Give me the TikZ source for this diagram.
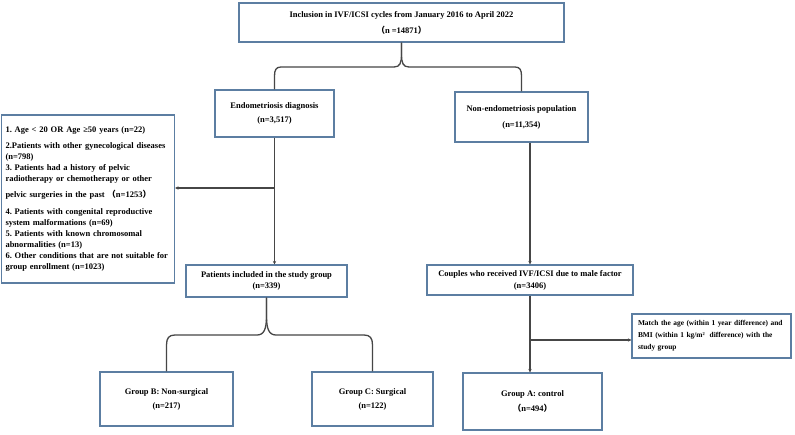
\documentclass[tikz,border=0pt]{standalone}
\usepackage{fontspec}
\setmainfont{Liberation Serif}
\newfontfamily\cjk{Noto Sans CJK SC}
\usetikzlibrary{arrows.meta}
\definecolor{boxc}{RGB}{92,126,162}
\definecolor{linec}{RGB}{70,70,70}
\tikzset{
  box/.style={draw=boxc, line width=1.1pt, inner sep=0pt, align=center, fill=white},
  conn/.style={draw=linec, line width=1.3pt},
  arr/.style={conn, -{Stealth[length=3.5pt,width=3.5pt]}},
  fb/.style={font=\frenchspacing\fontsize{8.5}{#1}\selectfont\bfseries}
}
\begin{document}
\begin{tikzpicture}[x=1pt,y=-1pt]
\useasboundingbox (0,0) rectangle (795,435);
\fill[white] (0,0) rectangle (795,435);

\node[box, fb=16, minimum width=325pt, minimum height=39pt] (top) at (401.5,22.5)
  {Inclusion in IVF/ICSI cycles from January 2016 to April 2022\\{\cjk （}n =14871{\cjk ）}};
\node[box, fb=14, minimum width=119pt, minimum height=47pt] (endo) at (274.5,113.5)
  {Endometriosis diagnosis\\(n=3,517)};
\node[box, fb=16, minimum width=133pt, minimum height=50pt] (nonendo) at (521.5,117)
  {Non-endometriosis population\\(n=11,354)};
\node[box, fb=11, minimum width=171pt, minimum height=168pt, inner xsep=4pt, text width=165pt, align=left] (excl) at (88,199)
  {1. Age < 20 OR Age ≥50 years (n=22)\\[5pt]
   2.Patients with other gynecological diseases\\
   (n=798)\\
   3. Patients had a history of pelvic\\
   radiotherapy or chemotherapy or other\\[5pt]
   pelvic surgeries in the past {\cjk （}n=1253{\cjk ）}\\[6pt]
   4. Patients with congenital reproductive\\
   system malformations (n=69)\\
   5. Patients with known chromosomal\\
   abnormalities (n=13)\\
   6. Other conditions that are not suitable for\\
   group enrollment (n=1023)};
\node[box, fb=11, minimum width=161pt, minimum height=32pt] (study) at (266.5,281)
  {Patients included in the study group\\(n=339)};
\node[box, fb=12, minimum width=206pt, minimum height=30pt] (couples) at (530,280)
  {Couples who received IVF/ICSI due to male factor\\(n=3406)};
\node[box, font=\frenchspacing\fontsize{7.4}{12}\selectfont\bfseries, minimum width=159pt, minimum height=44pt, inner xsep=6pt, text width=147pt, align=left] (match) at (711.5,336)
  {Match the age (within 1 year difference) and\\BMI (within 1 kg/m²\ \ difference) with the\\study group};
\node[box, fb=14, minimum width=133pt, minimum height=54pt] (grpB) at (166.5,399)
  {Group B: Non-surgical\\(n=217)};
\node[box, fb=14, minimum width=121pt, minimum height=54pt] (grpC) at (372.5,399)
  {Group C: Surgical\\(n=122)};
\node[box, fb=15, minimum width=139pt, minimum height=57pt] (grpA) at (532.5,401.5)
  {Group A: control\\{\cjk （}n=494{\cjk ）}};

% brace 1
\draw[conn] (top.south) -- (401.5,54) .. controls (401.5,63) and (400,67) .. (394,67)
  -- (281,67) .. controls (276,67) and (274.5,70) .. (274.5,76) -- (endo.north);
\draw[conn] (top.south) -- (401.5,54) .. controls (401.5,63) and (403,67) .. (409,67)
  -- (515,67) .. controls (520,67) and (521.5,70) .. (521.5,76) -- (nonendo.north);

% endometriosis branch
\coordinate (j1) at (endo.south |- 0,188);
\draw[arr] (endo.south) -- (endo.south |- study.north);
\draw[arr] (j1) -- (j1 -| excl.east);

% brace 2
\draw[conn] (study.south) -- (266.5,316) .. controls (266.5,329) and (264,335) .. (257,335)
  -- (175,335) .. controls (169,335) and (166.5,338) .. (166.5,345) -- (grpB.north);
\draw[conn] (study.south) -- (266.5,316) .. controls (266.5,329) and (269,335) .. (276,335)
  -- (364,335) .. controls (370,335) and (372.5,338) .. (372.5,345) -- (grpC.north);

% non-endometriosis branch
\draw[arr] (couples.north |- nonendo.south) -- (couples.north);
\coordinate (j2) at (couples.south |- 0,340);
\draw[arr] (couples.south) -- (couples.south |- grpA.north);
\draw[arr] (j2) -- (j2 -| match.west);
\end{tikzpicture}
\end{document}
